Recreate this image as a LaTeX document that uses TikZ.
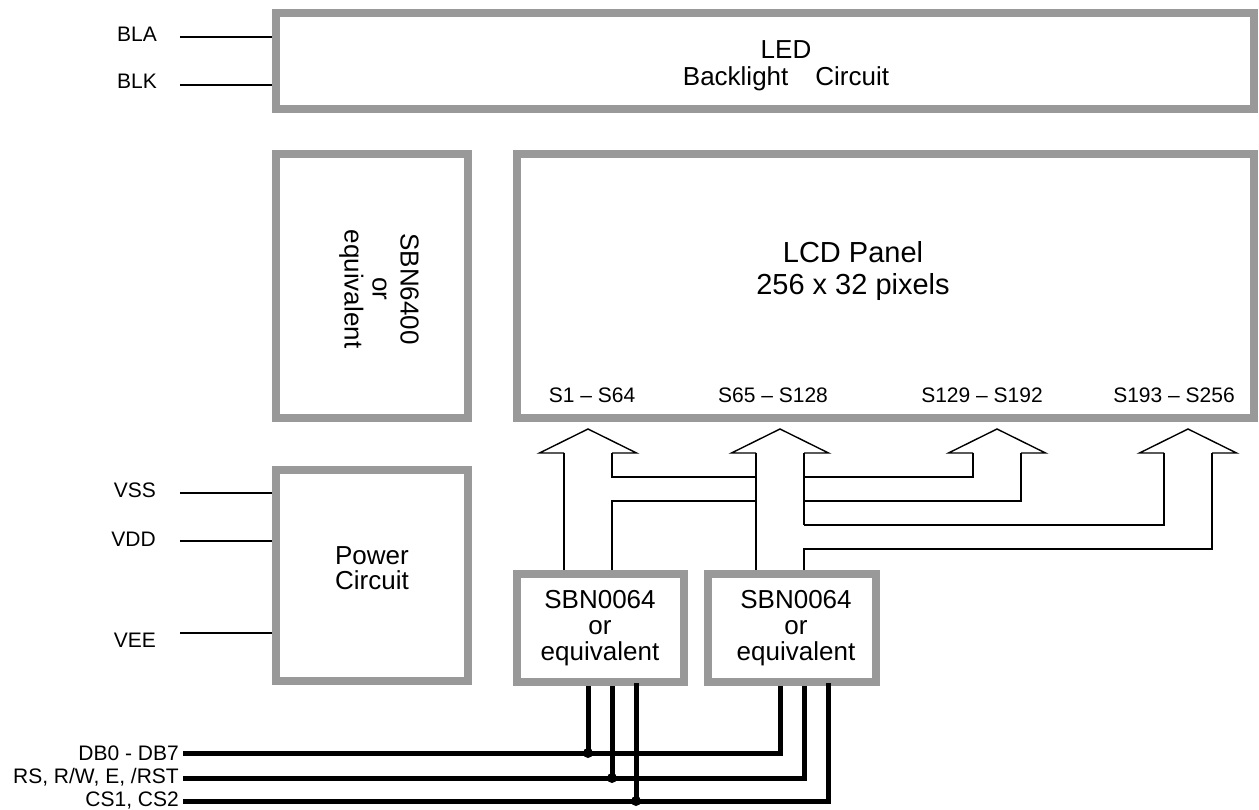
\documentclass[tikz,border=0pt]{standalone}
\usepackage{fontspec}
\setmainfont{Liberation Sans}
\usetikzlibrary{calc}
\definecolor{boxgray}{RGB}{153,153,153}
\begin{document}
\begin{tikzpicture}[x=1pt,y=-1pt,
  box/.style={draw=boxgray, line width=8pt, fill=white, inner sep=0pt},
  wire/.style={line width=1.4pt, line join=miter},
  bus/.style={line width=5pt, line join=miter},
  lbl/.style={font=\fontsize{21}{24}\selectfont, inner sep=0pt},
  big/.style={font=\fontsize{26}{26}\selectfont, align=center, inner sep=0pt},
  dot/.style={fill=black}]
\useasboundingbox[fill=white] (0,0) rectangle (1259,810);

% boxes
\node[box, minimum width=978, minimum height=96] (led) at (765,61) {};
\node[box, minimum width=737, minimum height=264] (lcd) at (885.5,286) {};
\node[box, minimum width=192, minimum height=264] (drv) at (372,286) {};
\node[box, minimum width=192, minimum height=211] (pwr) at (372,575.5) {};
\node[box, minimum width=167, minimum height=108] (sbn1) at (600.5,628) {};
\node[box, minimum width=168, minimum height=108] (sbn2) at (792,628) {};

% texts in boxes
\node[big, font=\fontsize{26}{27}\selectfont] (ledt) at (786,66) {LED\\Backlight\hspace{27pt}Circuit};
\node[big, font=\fontsize{29}{32}\selectfont] (lcdt) at (853,271.5) {LCD Panel\\256 x 32 pixels};
\node[big, rotate=-90, font=\fontsize{26}{28}\selectfont] (drvt) at (379,289) {SBN6400\\or\\equivalent};
\node[big, font=\fontsize{26}{25}\selectfont] (pwrt) at (372,568) {Power\\Circuit};
\node[big] (sbn1t) at (600,628) {SBN0064\\or\\equivalent};
\node[big] (sbn2t) at (796,628) {SBN0064\\or\\equivalent};

% segment labels
\node[lbl] (s1) at (592,395) {S1 \textendash{} S64};
\node[lbl] (s2) at (773,395) {S65 \textendash{} S128};
\node[lbl] (s3) at (982,395) {S129 \textendash{} S192};
\node[lbl] (s4) at (1174,395) {S193 \textendash{} S256};

% pin labels
\node[lbl, anchor=east] (bla) at (157,34) {BLA};
\node[lbl, anchor=east] (blk) at (157,81) {BLK};
\node[lbl, anchor=east] (vss) at (156,490) {VSS};
\node[lbl, anchor=east] (vdd) at (156,539) {VDD};
\node[lbl, anchor=east] (vee) at (156,640) {VEE};
\node[lbl, anchor=east] (db) at (179,753) {DB0 - DB7};
\node[lbl, anchor=east] (rs) at (179,777) {RS, R/W, E, /RST};
\node[lbl, anchor=east] (cs) at (179,801) {CS1, CS2};

% pin wire starts
\coordinate (blaS) at (180,37);
\coordinate (blkS) at (180,85);
\coordinate (vssS) at (180,493);
\coordinate (vddS) at (180,541);
\coordinate (veeS) at (180,633);
\draw[wire] (blaS) -- (blaS -| led.west);
\draw[wire] (blkS) -- (blkS -| led.west);
\draw[wire] (vssS) -- (vssS -| pwr.west);
\draw[wire] (vddS) -- (vddS -| pwr.west);
\draw[wire] (veeS) -- (veeS -| pwr.west);

% arrow tips
\coordinate (a1) at (588,429);
\coordinate (a2) at (780,429);
\coordinate (a3) at (997,429);
\coordinate (a4) at (1188,429);
\foreach \a in {a1,a2,a3,a4}{
  \draw[wire] ([shift={(-24,24)}]\a) -- ([shift={(-48.5,24)}]\a) -- (\a)
    -- ([shift={(48.5,24)}]\a) -- ([shift={(24,24)}]\a);
}
% shafts and branches
\draw[wire] ([shift={(-24,24)}]a1) -- ([shift={(-24,0)}]a1 |- sbn1.north);
\draw[wire] ([shift={(24,24)}]a1) |- ([shift={(-24,48)}]a2);
\draw[wire] ([shift={(24,0)}]a1 |- sbn1.north) |- ([shift={(-24,72)}]a2);
\draw[wire] ([shift={(-24,24)}]a2) -- ([shift={(-24,0)}]a2 |- sbn2.north);
\draw[wire] ([shift={(24,24)}]a2) -- ([shift={(24,96)}]a2);
\draw[wire] ([shift={(24,48)}]a2) -| ([shift={(-24,24)}]a3);
\draw[wire] ([shift={(24,72)}]a2) -| ([shift={(24,24)}]a3);
\draw[wire] ([shift={(24,96)}]a2) -| ([shift={(-24,24)}]a4);
\draw[wire] ([shift={(24,0)}]a2 |- sbn2.north) |- ([shift={(24,120)}]a4) -- ([shift={(24,24)}]a4);

% buses
\coordinate (dbS) at (183,753);
\coordinate (rsS) at (183,778);
\coordinate (csS) at (183,801);
\coordinate (p1) at (588,686);
\coordinate (p2) at (612,686);
\coordinate (p3) at (636,683);
\coordinate (q1) at (780,686);
\coordinate (q2) at (804,686);
\coordinate (q3) at (828,683);
\draw[bus] (dbS) -| (q1);
\draw[bus] (rsS) -| (q2);
\draw[bus] (csS) -| (q3);
\draw[bus] (p1) -- (p1 |- dbS);
\draw[bus] (p2) -- (p2 |- rsS);
\draw[bus] (p3) -- (p3 |- csS);
\fill[dot] (p1 |- dbS) circle (5);
\fill[dot] (p2 |- rsS) circle (5);
\fill[dot] (p3 |- csS) circle (5);
\end{tikzpicture}
\end{document}
